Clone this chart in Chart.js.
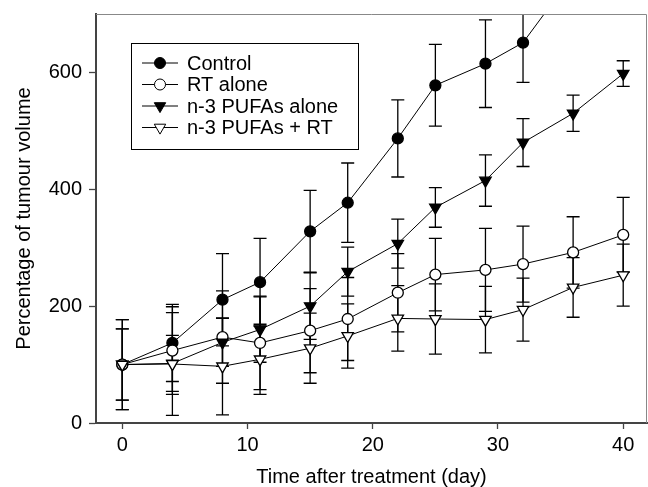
<!DOCTYPE html>
<html>
<head>
<meta charset="utf-8">
<script src="https://cdn.jsdelivr.net/npm/chart.js@4.4.0/dist/chart.umd.min.js"></script>
<style>
  html, body { margin: 0; padding: 0; background: #fff; }
  #wrap { width: 648px; height: 487px; }
</style>
</head>
<body>
<div id="wrap"><canvas id="myChart" width="648" height="487"></canvas></div>
<script>
// days after treatment
const days = [0, 4, 8, 11, 15, 18, 22, 25, 29, 32, 36, 40];

// mean % tumour volume and error
const control = [100, 137, 211, 241, 328, 377, 487, 578, 615, 651, 767, null];
const controlErr = [77, 66, 79, 75, 70, 68, 66, 70, 75, 68, 60, null];
const rtAlone = [100, 124, 147, 137, 158, 178, 223, 254, 262, 272, 292, 322];
const rtAloneErr = [77, 75, 79, 80, 72, 71, 67, 62, 71, 65, 61, 64];
const pufaAlone = [100, 102, 138, 160, 200, 259, 307, 369, 415, 480, 530, 598];
const pufaAloneErr = [61, 48, 41, 56, 57, 42, 42, 34, 44, 41, 31, 22];
const pufaRt = [100, 101, 97, 109, 128, 149, 179, 178, 177, 194, 232, 253];
const pufaRtErr = [61, 88, 83, 60, 60, 55, 56, 60, 57, 54, 51, 53];

const seriesNames = ["Control", "RT alone", "n-3 PUFAs alone", "n-3 PUFAs + RT"];

// tick labels
const xTicks = [0, 10, 20, 30, 40];
const yTicks = [0, 200, 400, 600];

const FONT = "'Liberation Sans', Arial, Helvetica, sans-serif";

function toPoints(values) {
  return days.map((d, i) => ({ x: d, y: values[i] }));
}

function makeSet(label, values, errors, style, filled, order) {
  return {
    label: label,
    data: toPoints(values),
    errors: errors,
    borderColor: "#000",
    borderWidth: 1,
    backgroundColor: filled ? "#000" : "#fff",
    pointBackgroundColor: filled ? "#000" : "#fff",
    pointBorderColor: "#000",
    pointBorderWidth: 1.3,
    pointStyle: style,
    pointRotation: style === "triangle" ? 180 : 0,
    pointRadius: style === "triangle" ? 6.6 : 5.5,
    spanGaps: false,
    order: order,
  };
}

// error bars drawn under the markers
const errorBars = {
  id: "errorBars",
  beforeDatasetsDraw(chart) {
    const { ctx, chartArea, scales } = chart;
    ctx.save();
    ctx.beginPath();
    ctx.rect(chartArea.left, chartArea.top, chartArea.right - chartArea.left, chartArea.bottom - chartArea.top);
    ctx.clip();
    ctx.strokeStyle = "#000";
    ctx.lineWidth = 1.3;
    chart.data.datasets.forEach((ds) => {
      ds.data.forEach((p, i) => {
        const e = ds.errors[i];
        if (p.y == null || e == null) return;
        const x = scales.x.getPixelForValue(p.x);
        const y1 = scales.y.getPixelForValue(p.y + e);
        const y2 = scales.y.getPixelForValue(p.y - e);
        ctx.beginPath();
        ctx.moveTo(x, y1);
        ctx.lineTo(x, y2);
        ctx.moveTo(x - 6.5, y1);
        ctx.lineTo(x + 6.5, y1);
        ctx.moveTo(x - 6.5, y2);
        ctx.lineTo(x + 6.5, y2);
        ctx.stroke();
      });
    });
    ctx.restore();
  },
};

// top/right frame and the boxed legend inside the plot
const frameAndLegend = {
  id: "frameAndLegend",
  afterDraw(chart) {
    const { ctx, chartArea } = chart;
    ctx.save();
    ctx.strokeStyle = "#888";
    ctx.lineWidth = 1;
    ctx.beginPath();
    ctx.moveTo(chartArea.left, chartArea.top + 0.5);
    ctx.lineTo(chartArea.right - 0.5, chartArea.top + 0.5);
    ctx.lineTo(chartArea.right - 0.5, chartArea.bottom);
    ctx.stroke();

    // legend box
    const bx = chartArea.left + 35;
    const by = chartArea.top + 29;
    const bw = 227;
    const bh = 106;
    ctx.fillStyle = "#fff";
    ctx.fillRect(bx, by, bw, bh);
    ctx.strokeStyle = "#000";
    ctx.lineWidth = 1;
    ctx.strokeRect(bx + 0.5, by + 0.5, bw, bh);

    ctx.font = "20px " + FONT;
    ctx.textBaseline = "middle";
    ctx.textAlign = "left";
    chart.data.datasets.forEach((ds, i) => {
      const ry = by + 20 + i * 21.5;
      ctx.strokeStyle = "#000";
      ctx.lineWidth = 1;
      ctx.beginPath();
      ctx.moveTo(bx + 11, ry);
      ctx.lineTo(bx + 47, ry);
      ctx.stroke();
      ctx.fillStyle = ds.pointBackgroundColor;
      ctx.strokeStyle = "#000";
      Chart.helpers.drawPoint(ctx, {
        pointStyle: ds.pointStyle,
        rotation: ds.pointRotation,
        radius: ds.pointRadius,
        borderWidth: ds.pointBorderWidth,
      }, bx + 29, ry);
      ctx.fillStyle = "#000";
      ctx.fillText(ds.label, bx + 56, ry + 1);
    });
    ctx.restore();
  },
};

const config = {
  type: "line",
  data: {
    datasets: [
      makeSet(seriesNames[0], control, controlErr, "circle", true, 4),
      makeSet(seriesNames[1], rtAlone, rtAloneErr, "circle", false, 3),
      makeSet(seriesNames[2], pufaAlone, pufaAloneErr, "triangle", true, 2),
      makeSet(seriesNames[3], pufaRt, pufaRtErr, "triangle", false, 1),
    ],
  },
  options: {
    responsive: false,
    animation: false,
    layout: { autoPadding: false, padding: { top: 14, right: 1, bottom: 0, left: 0 } },
    plugins: {
      legend: { display: false },
      tooltip: { enabled: false },
    },
    scales: {
      x: {
        type: "linear",
        min: -2.1,
        max: 41.9,
        afterBuildTicks: (scale) => {
          scale.ticks = xTicks.map((v) => ({ value: v }));
        },
        afterFit: (scale) => {
          scale.height = 64;
          scale.paddingLeft = 0;
          scale.paddingRight = 0;
        },
        grid: {
          drawOnChartArea: false,
          drawTicks: true,
          tickLength: 6,
          tickWidth: 1.3,
          tickColor: "#444",
        },
        border: { display: true, color: "#444", width: 2 },
        ticks: {
          color: "#000",
          padding: 4,
          maxRotation: 0,
          font: { family: FONT, size: 20 },
        },
        title: {
          display: true,
          text: "Time after treatment (day)",
          color: "#000",
          padding: { top: 0, bottom: 0 },
          font: { family: FONT, size: 20, lineHeight: 1 },
        },
      },
      y: {
        type: "linear",
        min: 0,
        max: 700,
        afterBuildTicks: (scale) => {
          scale.ticks = yTicks.map((v) => ({ value: v }));
        },
        afterFit: (scale) => {
          scale.width = 96;
          scale.paddingTop = 0;
          scale.paddingBottom = 0;
        },
        grid: {
          drawOnChartArea: false,
          drawTicks: true,
          tickLength: 7,
          tickWidth: 1.3,
          tickColor: "#444",
        },
        border: { display: true, color: "#444", width: 2 },
        ticks: {
          color: "#000",
          padding: 7,
          font: { family: FONT, size: 20 },
        },
        title: {
          display: true,
          text: "Percentage of tumour volume",
          color: "#000",
          padding: { top: 12, bottom: 0 },
          font: { family: FONT, size: 20 },
        },
      },
    },
  },
  plugins: [errorBars, frameAndLegend],
};

const myChart = new Chart(document.getElementById("myChart"), config);
</script>
</body>
</html>
